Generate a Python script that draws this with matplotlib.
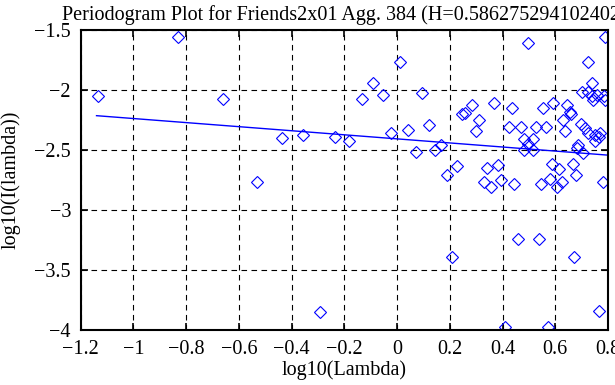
import matplotlib
matplotlib.use("Agg")
import matplotlib.pyplot as plt

log_lambda = [
    -1.136, -0.832, -0.659, -0.532, -0.436, -0.355, -0.292, -0.234, -0.181, -0.134,
    -0.092, -0.054, -0.023, 0.011, 0.040, 0.071, 0.096, 0.121, 0.144, 0.167,
    0.188, 0.207, 0.226, 0.245, 0.258, 0.283, 0.298, 0.312, 0.328, 0.340,
    0.357, 0.369, 0.382, 0.395, 0.410, 0.425, 0.435, 0.445, 0.458, 0.469,
    0.483, 0.483, 0.498, 0.498, 0.515, 0.517, 0.526, 0.539, 0.545, 0.555,
    0.565, 0.574, 0.580, 0.587, 0.591, 0.606, 0.616, 0.625, 0.629, 0.637,
    0.644, 0.656, 0.667, 0.670, 0.679, 0.688, 0.697, 0.703, 0.707, 0.713,
    0.723, 0.726, 0.741, 0.726, 0.738, 0.745, 0.758, 0.783, 0.789, 0.751,
    0.764, 0.751, 0.770, 0.764, 0.780, 0.789, 0.682, 0.659,
]
log_I = [
    -2.050, -1.561, -2.078, -2.764, -2.397, -2.375, -3.847, -2.389, -2.422, -2.078,
    -1.944, -2.042, -2.361, -1.769, -2.333, -2.519, -2.022, -2.292, -2.500, -2.458,
    -2.708, -3.389, -2.631, -2.200, -2.194, -2.125, -2.342, -2.250, -2.769, -2.647,
    -2.806, -2.111, -2.625, -2.750, -3.972, -2.306, -2.153, -2.786, -3.244, -2.306,
    -2.411, -2.500, -1.611, -2.450, -2.411, -2.500, -2.306, -3.244, -2.786, -2.153,
    -2.306, -3.972, -2.744, -2.617, -2.111, -2.806, -2.658, -2.764, -2.250, -2.342,
    -2.125, -2.180, -2.619, -3.389, -2.708, -2.458, -2.286, -2.014, -2.522, -2.320,
    -1.769, -2.361, -1.944, -2.014, -2.053, -2.081, -2.042, -2.053, -2.083, -2.372,
    -2.389, -2.428, -2.361, -3.842, -2.769, -1.561, -2.486, -2.203,
]
fit_x = [-1.140, 0.795]
fit_y = [-2.214, -2.542]

x_ticks = [-1.2, -1.0, -0.8, -0.6, -0.4, -0.2, 0.0, 0.2, 0.4, 0.6, 0.8]
x_tick_labels = ["\u22121.2", "\u22121", "\u22120.8", "\u22120.6", "\u22120.4", "\u22120.2", "0", "0.2", "0.4", "0.6", "0.8"]
y_ticks = [-4.0, -3.5, -3.0, -2.5, -2.0, -1.5]
y_tick_labels = ["\u22124", "\u22123.5", "\u22123", "\u22122.5", "\u22122", "\u22121.5"]

title = "Periodogram Plot for Friends2x01 Agg. 384 (H=0.586275294102402)"

FS = 14.5
plt.rcParams['font.family'] = ['Liberation Serif', 'DejaVu Serif']
plt.rcParams['font.size'] = FS

fig = plt.figure(figsize=(6.15, 3.85), dpi=100)
ax = fig.add_axes([80.7 / 615, 1 - 330 / 385, (608 - 80.7) / 615, 300 / 385])

ax.plot(log_lambda, log_I, linestyle='none', marker='D', markersize=6.5,
        markerfacecolor='none', markeredgecolor='#0000ff', markeredgewidth=0.8)
ax.plot(fit_x, fit_y, color='#0000ff', linewidth=1.0)

ax.set_xlim(-1.2, 0.8)
ax.set_ylim(-4, -1.5)
ax.set_xticks(x_ticks)
ax.set_xticklabels(x_tick_labels)
ax.set_yticks(y_ticks)
ax.set_yticklabels(y_tick_labels)
ax.tick_params(direction='in', top=True, right=True, length=5, width=1.2,
               labelsize=FS, colors='black')
ax.tick_params(axis='y', pad=7)
ax.tick_params(axis='x', pad=7)
ax.grid(True, color='black', linestyle=(0, (5, 4)), linewidth=0.8)
for s in ax.spines.values():
    s.set_linewidth(1.5)
    s.set_color('black')

ax.set_xlabel("log10(Lambda)", fontsize=FS, labelpad=1)
ax.set_ylabel("log10(I(lambda))", fontsize=FS, labelpad=10)
ax.set_title(title, fontsize=FS, pad=7)

fig.savefig("out.png", dpi=100)
